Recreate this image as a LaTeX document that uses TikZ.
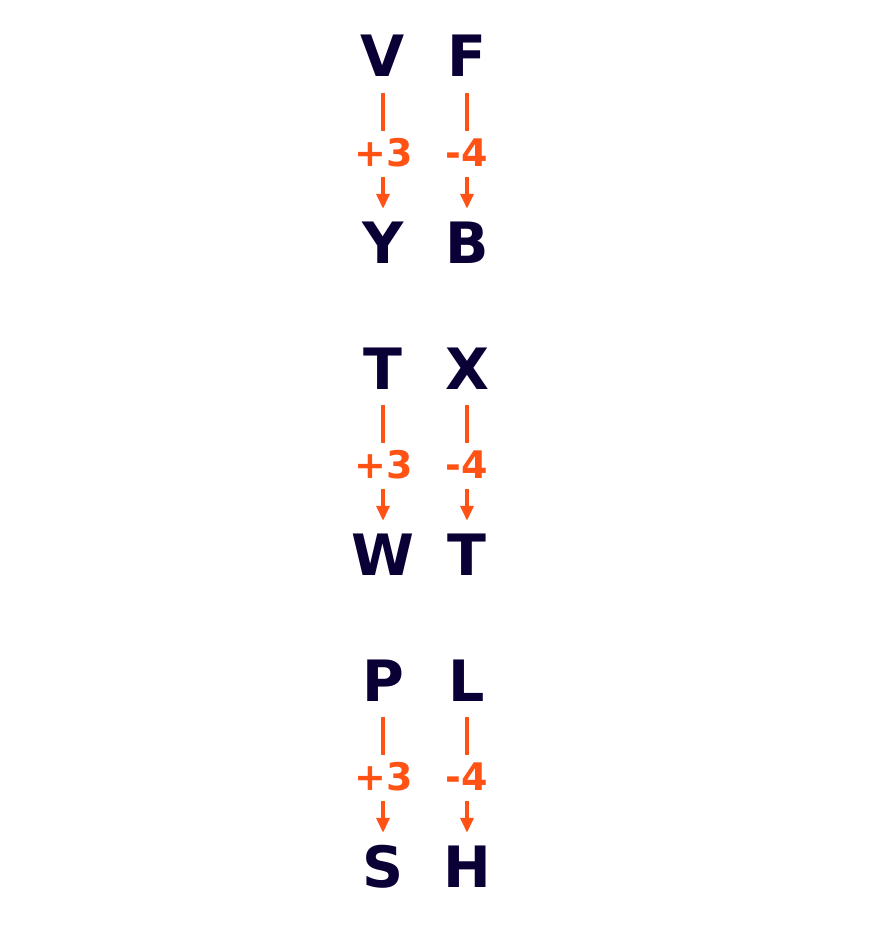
\documentclass[tikz,border=0pt]{standalone}
\usepackage{fontspec}
\setmainfont{DejaVu Sans}
\usetikzlibrary{arrows.meta}
\definecolor{navy}{HTML}{0A0036}
\definecolor{orng}{HTML}{FF5214}
\begin{document}
\begin{tikzpicture}[x=1pt,y=-1pt,
 letter/.style={font=\fontsize{57}{60}\selectfont\bfseries, text=navy, inner sep=0pt, anchor=base, text height=42pt, text depth=0pt},
 shiftlab/.style={font=\fontsize{38}{40}\selectfont\bfseries, text=orng, inner sep=0pt, anchor=base, text height=28pt, text depth=0pt},
 link/.style={draw=orng, line width=3.5pt, shorten <=16pt, shorten >=7pt},
 arr/.style={draw=orng, line width=3.5pt, -{Triangle[length=15pt,width=13pt]}, shorten <=11pt, shorten >=12pt}]
\useasboundingbox (0,0) rectangle (888,939);
\foreach \dy/\i/\ta/\ba/\tb/\bb in {0/1/V/Y/F/B, 312/2/T/W/X/T, 624/3/P/S/L/H}{
  \node[letter] (ta\i) at (383,77+\dy) {\ta};
  \node[shiftlab] (la\i) at (384,166+\dy) {+3};
  \node[letter] (ba\i) at (383,263+\dy) {\ba};
  \node[letter] (tb\i) at (467,77+\dy) {\tb};
  \node[shiftlab] (lb\i) at (467,166+\dy) {-4};
  \node[letter] (bb\i) at (467,263+\dy) {\bb};
  \draw[link] (ta\i.south) -- (ta\i.south |- la\i.north);
  \draw[arr] (ta\i.south |- la\i.south) -- (ba\i.north);
  \draw[link] (tb\i.south) -- (tb\i.south |- lb\i.north);
  \draw[arr] (tb\i.south |- lb\i.south) -- (bb\i.north);
}
\end{tikzpicture}
\end{document}
